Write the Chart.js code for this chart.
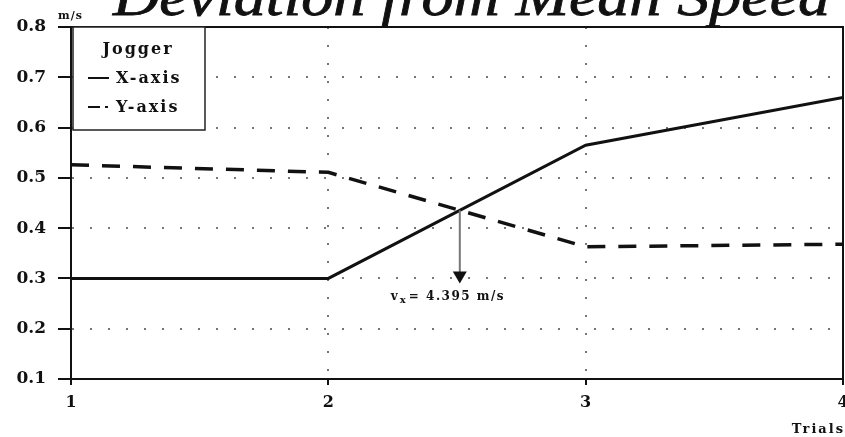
<!DOCTYPE html>
<html>
<head>
<meta charset="utf-8">
<script src="https://cdn.jsdelivr.net/npm/chart.js@4"></script>
<style>
  html, body { margin: 0; padding: 0; background: #fff; }
  #wrap { width: 845px; height: 437px; position: relative; }
</style>
</head>
<body>
<div id="wrap"><canvas id="speed-chart"></canvas></div>
<script>
// data
const trials = [1, 2, 3, 4];
const xAxisDev = [0.30, 0.30, 0.565, 0.66];
const yAxisDev = [0.526, 0.511, 0.363, 0.368];
const yTicks = [0.1, 0.2, 0.3, 0.4, 0.5, 0.6, 0.7, 0.8];
const seriesNames = ['X-axis', 'Y-axis'];
const legendTitle = 'Jogger';
const chartTitle = 'Deviation from Mean Speed';
const yUnit = 'm/s';
const xUnit = 'Trials';
const markText = '= 4.395 m/s';
const markBottom = 0.29;

const serif = '"Liberation Serif", serif';
const wideSerif = '"DejaVu Serif", serif';

function pts(vals) {
  return trials.map((t, i) => ({ x: t, y: vals[i] }));
}

// title, unit labels, plot frame
const decorPlugin = {
  id: 'decor',
  afterDraw(chart) {
    const { ctx, chartArea: a } = chart;
    ctx.save();
    // frame top + right
    ctx.strokeStyle = '#111';
    ctx.lineWidth = 2;
    ctx.beginPath();
    ctx.moveTo(a.left - 10, a.top);
    ctx.lineTo(a.right, a.top);
    ctx.lineTo(a.right, a.bottom);
    ctx.stroke();

    // big title, clipped at the top like the scan
    ctx.fillStyle = '#111';
    ctx.font = 'italic 54px ' + serif;
    ctx.textBaseline = 'alphabetic';
    const w = ctx.measureText(chartTitle).width;
    ctx.save();
    ctx.translate(113, 15);
    ctx.scale(717 / w, 1);
    ctx.lineWidth = 0.8;
    ctx.fillText(chartTitle, 0, 0);
    ctx.strokeText(chartTitle, 0, 0);
    ctx.restore();

    ctx.font = 'bold 11px ' + wideSerif;
    ctx.letterSpacing = '1px';
    ctx.fillText(yUnit, 58, 19);
    ctx.font = 'bold 13px ' + wideSerif;
    ctx.letterSpacing = '2px';
    ctx.textAlign = 'right';
    ctx.fillText(xUnit, 845, 433);
    ctx.restore();
  }
};

// boxed legend in the upper left corner
const boxLegendPlugin = {
  id: 'boxLegend',
  afterDraw(chart) {
    const { ctx, chartArea: a } = chart;
    const x0 = a.left + 2, y0 = a.top, w = 132, h = 103;
    ctx.save();
    ctx.fillStyle = '#fff';
    ctx.fillRect(x0, y0, w, h);
    ctx.strokeStyle = '#222';
    ctx.lineWidth = 1.5;
    ctx.strokeRect(x0, y0, w, h);

    ctx.fillStyle = '#111';
    ctx.font = 'bold 16px ' + wideSerif;
    ctx.letterSpacing = '2px';
    ctx.textAlign = 'center';
    ctx.textBaseline = 'middle';
    ctx.fillText(legendTitle, x0 + 65, y0 + 23);

    ctx.textAlign = 'left';
    chart.data.datasets.forEach((ds, i) => {
      const yy = y0 + 51 + i * 29;
      ctx.strokeStyle = '#111';
      ctx.lineWidth = 2;
      ctx.setLineDash(i === 0 ? [] : [12, 5, 3, 5]);
      ctx.beginPath();
      ctx.moveTo(x0 + 15, yy);
      ctx.lineTo(x0 + 36, yy);
      ctx.stroke();
      ctx.setLineDash([]);
      ctx.fillText(ds.label, x0 + 43, yy + 1);
    });
    ctx.restore();
  }
};

// arrow from the crossing point down to the speed label
const crossPlugin = {
  id: 'cross',
  afterDatasetsDraw(chart) {
    const { ctx, scales: { x, y } } = chart;
    const i = 1; // segment between trials 2 and 3
    const a1 = xAxisDev[i], a2 = xAxisDev[i + 1];
    const b1 = yAxisDev[i], b2 = yAxisDev[i + 1];
    const t = (b1 - a1) / ((a2 - a1) - (b2 - b1));
    const cx = x.getPixelForValue(trials[i] + t * (trials[i + 1] - trials[i]));
    const cy = y.getPixelForValue(a1 + t * (a2 - a1));
    const tip = y.getPixelForValue(markBottom);
    ctx.save();
    ctx.strokeStyle = '#777';
    ctx.lineWidth = 2;
    ctx.beginPath();
    ctx.moveTo(cx, cy);
    ctx.lineTo(cx, tip - 10);
    ctx.stroke();
    ctx.fillStyle = '#111';
    ctx.beginPath();
    ctx.moveTo(cx - 7, tip - 12);
    ctx.lineTo(cx + 7, tip - 12);
    ctx.lineTo(cx, tip);
    ctx.closePath();
    ctx.fill();

    ctx.textBaseline = 'alphabetic';
    ctx.letterSpacing = '1.5px';
    const ty = tip + 17;
    const lx = cx - 69;
    ctx.font = 'bold 12px ' + wideSerif;
    ctx.fillText('v', lx, ty);
    ctx.font = 'bold 10px ' + wideSerif;
    ctx.fillText('x', lx + 9, ty + 3);
    ctx.font = 'bold 12px ' + wideSerif;
    ctx.fillText(markText, lx + 18, ty);
    ctx.restore();
  }
};

const ctx = document.getElementById('speed-chart');

new Chart(ctx, {
  type: 'line',
  data: {
    datasets: [{
      label: seriesNames[0],
      data: pts(xAxisDev),
      borderColor: '#111',
      borderWidth: 3,
      pointRadius: 0,
      tension: 0
    }, {
      label: seriesNames[1],
      data: pts(yAxisDev),
      borderColor: '#111',
      borderWidth: 3.5,
      borderDash: [18, 13],
      pointRadius: 0,
      tension: 0
    }]
  },
  options: {
    responsive: true,
    maintainAspectRatio: false,
    animation: false,
    layout: { padding: { top: 27, right: 2, left: 0, bottom: 0 } },
    scales: {
      x: {
        type: 'linear',
        min: 1,
        max: 4,
        afterFit: s => { s.height = 58; s.paddingLeft = 0; s.paddingRight = 0; },
        afterBuildTicks: s => { s.ticks = trials.map(v => ({ value: v })); },
        ticks: {
          color: '#111',
          padding: 8,
          maxRotation: 0,
          font: { family: wideSerif, size: 16, weight: 'bold' }
        },
        grid: {
          color: c => (c.tick && (c.tick.value === 1 || c.tick.value === 4)) ? 'rgba(0,0,0,0)' : '#777',
          lineWidth: 2,
          tickColor: '#111',
          tickLength: 6,
          tickBorderDash: []
        },
        border: { color: '#111', width: 2, dash: [2, 16] }
      },
      y: {
        min: 0.1,
        max: 0.8,
        afterFit: s => { s.width = 71; s.paddingTop = 0; s.paddingBottom = 0; },
        afterBuildTicks: s => { s.ticks = yTicks.map(v => ({ value: v })); },
        ticks: {
          color: '#111',
          padding: 12,
          callback: v => v.toFixed(1),
          font: { family: wideSerif, size: 17, weight: 'bold' }
        },
        grid: {
          color: c => (c.tick && (c.tick.value === 0.1 || c.tick.value === 0.8)) ? 'rgba(0,0,0,0)' : '#777',
          lineWidth: 2,
          tickColor: '#111',
          tickLength: 13,
          tickBorderDash: []
        },
        border: { color: '#111', width: 2, dash: [2, 16] }
      }
    },
    plugins: {
      legend: { display: false },
      tooltip: { enabled: false }
    }
  },
  plugins: [decorPlugin, boxLegendPlugin, crossPlugin]
});
</script>
</body>
</html>
